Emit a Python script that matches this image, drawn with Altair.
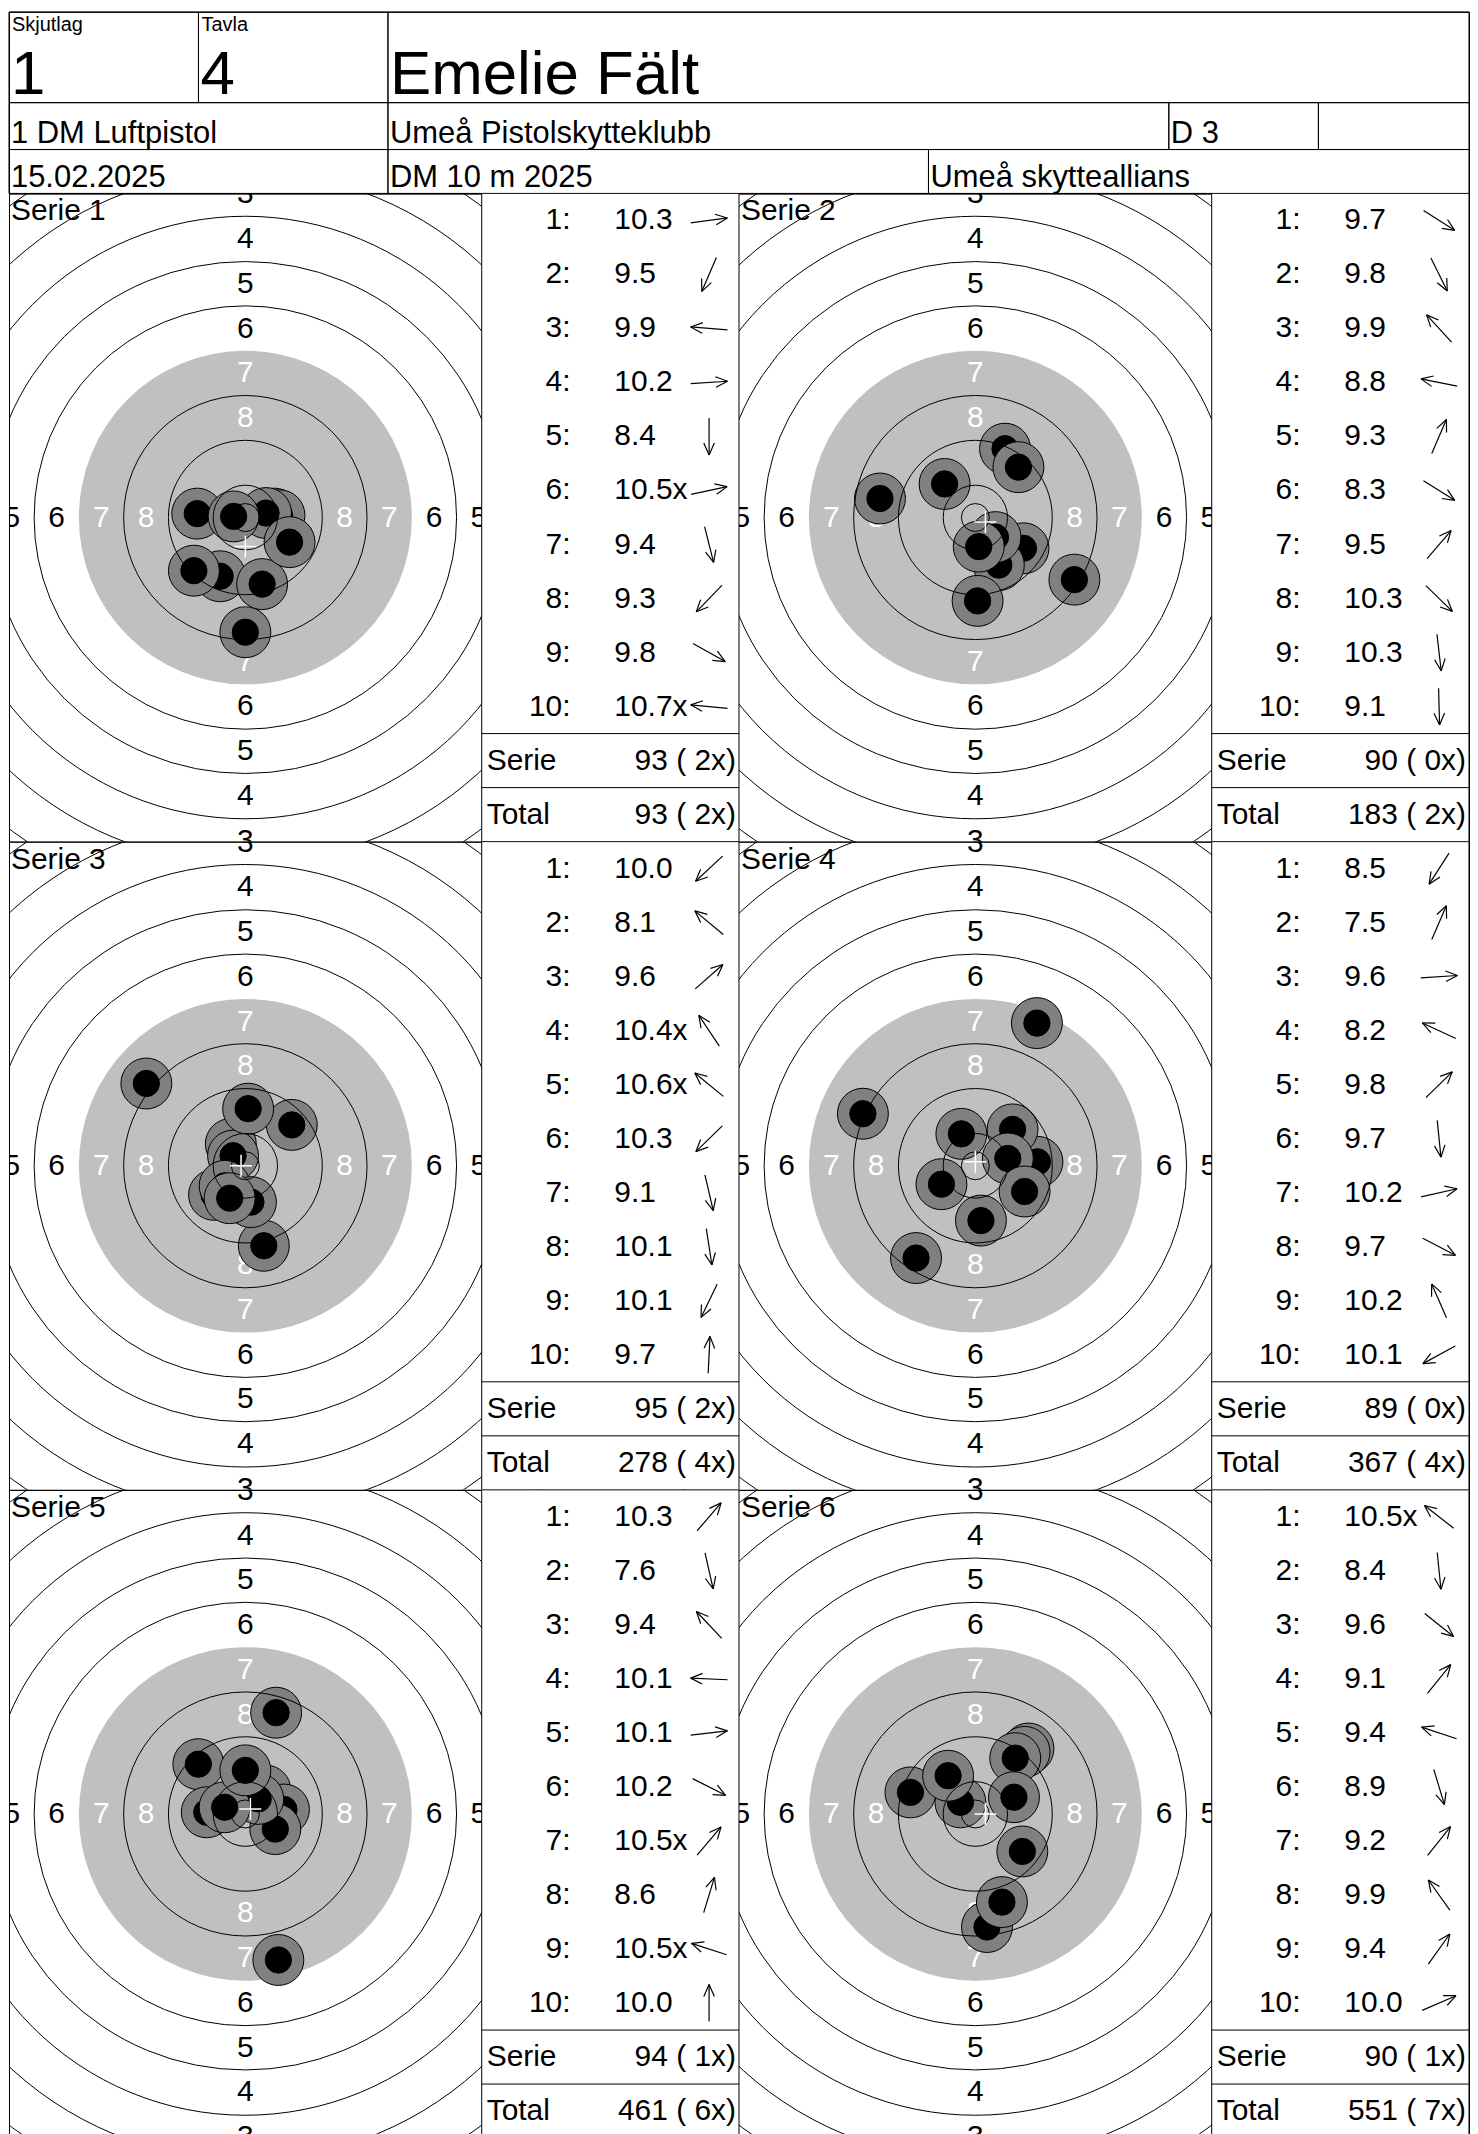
import altair as alt
import pandas as pd

FONT = "Liberation Sans"

# ---------------- header texts ----------------
SKJUTLAG_LABEL = "Skjutlag"
SKJUTLAG = "1"
TAVLA_LABEL = "Tavla"
TAVLA = "4"
NAME = "Emelie Fält"
CLASS_NAME = "1 DM Luftpistol"
CLUB = "Umeå Pistolskytteklubb"
DIVISION = "D 3"
DATE = "15.02.2025"
COMPETITION = "DM 10 m 2025"
ASSOCIATION = "Umeå skytteallians"

# ---------------- series data ----------------
SERIES_NAMES = ["Serie 1", "Serie 2", "Serie 3", "Serie 4", "Serie 5", "Serie 6"]

SCORES = [
    ["10.3", "9.5", "9.9", "10.2", "8.4", "10.5x", "9.4", "9.3", "9.8", "10.7x"],
    ["9.7", "9.8", "9.9", "8.8", "9.3", "8.3", "9.5", "10.3", "10.3", "9.1"],
    ["10.0", "8.1", "9.6", "10.4x", "10.6x", "10.3", "9.1", "10.1", "10.1", "9.7"],
    ["8.5", "7.5", "9.6", "8.2", "9.8", "9.7", "10.2", "9.7", "10.2", "10.1"],
    ["10.3", "7.6", "9.4", "10.1", "10.1", "10.2", "10.5x", "8.6", "10.5x", "10.0"],
    ["10.5x", "8.4", "9.6", "9.1", "9.4", "8.9", "9.2", "9.9", "9.4", "10.0"],
]

# shot positions on the target, mm from centre (x right, y up)
SHOT_X = [
    [5.2, -4.5, -8.6, 6.1, 0.0, 3.7, 3.0, -9.2, 7.9, -2.1],
    [8.6, 4.2, -5.5, -17.05, 5.3, 17.7, 7.7, 3.6, 0.6, 0.4],
    [-5.6, -17.7, 8.3, -2.6, -2.2, -3.7, 3.3, 1.0, -2.8, 0.5],
    [-10.6, 11.0, 11.1, -20.1, 6.65, 1.0, 5.8, 8.8, -2.5, -6.06],
    [3.6, 5.9, -8.4, -6.9, 6.9, 5.35, 2.3, 5.5, -3.7, 0.0],
    [-2.67, 2.08, 8.4, 9.5, -11.6, 4.75, 8.8, -4.87, 7.13, 6.9],
]
SHOT_Y = [
    [0.7, -10.5, 0.7, 0.4, -20.5, 0.8, -11.9, -9.5, -4.4, 0.2],
    [-5.5, -8.5, 6.0, 3.4, 12.3, -11.1, 9.0, -3.5, -5.2, -14.9],
    [-5.2, 14.7, 7.3, 3.9, 1.8, -3.6, -14.3, -6.5, -5.8, 10.2],
    [-16.5, 25.5, 0.7, 9.3, 6.5, -9.8, 1.3, -4.6, 5.7, -3.3],
    [4.2, -26.1, 8.9, 0.3, 0.8, -2.7, 2.7, 18.1, 1.2, 7.8],
    [2.08, -20.2, -6.7, 11.7, 3.86, -15.75, 11.1, 6.83, 9.98, 3.0],
]

# group centre marks (white cross), mm
CROSS_X = [0.0, 1.8, -0.77, 0.0, 0.9, 1.8]
CROSS_Y = [-5.2, -0.8, 0.0, 0.7, 0.9, 0.0]

SERIE_SUM = [93, 90, 95, 89, 94, 90]
SERIE_INNER = [2, 0, 2, 0, 1, 1]
TOTAL_SUM = [93, 183, 278, 367, 461, 551]
TOTAL_INNER = [2, 2, 4, 4, 6, 7]

# ---------------- target geometry (10 m air pistol, mm) ----------------
RING_OUTER = [77.75, 69.75, 61.75, 53.75, 45.75, 37.75, 29.75, 21.75, 13.75, 5.75]
RING_WIDTH = 8.0
INNER_TEN_R = 2.5
SHADED_FROM = 7
SHOT_OUTER_R = 4.55
SHOT_INNER_R = 2.35

# ---------------- layout / style ----------------
PX = 5.61                      # pixels per mm
TARGET_W, TARGET_H = 474, 650
LIST_W = 258
COL_W = TARGET_W + LIST_W
SHEET_W = 2 * COL_W
ROW_H = TARGET_H / 12
SHADE = "#c0c0c0"
SHOT_GRAY = "#808080"
LIST_FS = 30
LABEL_FS = 30
ARROW_X, ARROW_LEN, HEAD_LEN, HEAD_ANG = 228, 37, 13, 0.42

HEADER_HEIGHTS = [91, 47, 44]
HEADER_WIDTHS = [[190, 190, 1084], [380, 783, 150, 151], [380, 542, 542]]
BIG, SMALL, MID = 62, 20, 31
HEADER_CONTENT = [
    [[(SKJUTLAG_LABEL, SMALL, 3, 19), (SKJUTLAG, BIG, 2, 82)],
     [(TAVLA_LABEL, SMALL, 3, 19), (TAVLA, BIG, 2, 82)],
     [(NAME, BIG, 2, 82)]],
    [[(CLASS_NAME, MID, 2, 40)], [(CLUB, MID, 2, 40)], [(DIVISION, MID, 2, 40)], []],
    [[(DATE, MID, 2, 38)], [(COMPETITION, MID, 2, 38)], [(ASSOCIATION, MID, 2, 38)]],
]

SIZE_SCALE = alt.Scale(type="pow", exponent=2, domain=[0, 80],
                       range=[0, (2 * 80 * PX) ** 2], nice=False)


def header_chart():
    total_h = sum(HEADER_HEIGHTS)
    xs = alt.Scale(domain=[0, SHEET_W], nice=False, zero=False)
    ys = alt.Scale(domain=[0, total_h], reverse=True, nice=False, zero=False)
    cells, texts = [], []
    y0 = 0
    for h, widths, contents in zip(HEADER_HEIGHTS, HEADER_WIDTHS, HEADER_CONTENT):
        x0 = 0
        for w, items in zip(widths, contents):
            cells.append({"x0": x0, "x1": x0 + w, "y0": y0, "y1": y0 + h})
            for t, fs, dx, dy in items:
                texts.append({"t": t, "fs": fs, "tx": x0 + dx, "ty": y0 + dy})
            x0 += w
        y0 += h
    rects = alt.Chart(pd.DataFrame(cells)).mark_rect(
        filled=False, color="black", strokeWidth=1
    ).encode(x=alt.X("x0:Q", scale=xs, axis=None), x2="x1:Q",
             y=alt.Y("y0:Q", scale=ys, axis=None), y2="y1:Q")
    txt = alt.Chart(pd.DataFrame(texts)).mark_text(
        align="left", baseline="alphabetic", font=FONT, color="black"
    ).encode(x=alt.X("tx:Q", scale=xs, axis=None), y=alt.Y("ty:Q", scale=ys, axis=None),
             text="t:N", size=alt.Size("fs:Q", scale=None))
    return alt.layer(rects, txt).properties(width=SHEET_W, height=total_h)


def row_chart(r):
    series = [2 * r, 2 * r + 1]
    xs = alt.Scale(domain=[0, SHEET_W], nice=False, zero=False)
    ys = alt.Scale(domain=[0, TARGET_H], reverse=True, nice=False, zero=False)

    def XY(xf, yf):
        return dict(x=alt.X(f"{xf}:Q", scale=xs, axis=None),
                    y=alt.Y(f"{yf}:Q", scale=ys, axis=None))

    size = alt.Size("r:Q", scale=SIZE_SCALE, legend=None)
    mm_to_px = dict(px=f"datum.cx + datum.x * {PX}", py=f"datum.cy - datum.y * {PX}")

    discs, labs, shots, rings, crosses, titles = [], [], [], [], [], []
    lists, rows, sums, seps = [], [], [], []
    for c, i in enumerate(series):
        left = c * COL_W
        cx, cy = left + TARGET_W / 2, TARGET_H / 2
        discs.append({"cx": cx, "cy": cy, "x": 0.0, "y": 0.0, "r": RING_OUTER[SHADED_FROM - 1]})
        for n in range(1, 9):
            rr = RING_OUTER[n - 1] - RING_WIDTH / 2
            for dx, dy in [(0, 1), (0, -1), (-1, 0), (1, 0)]:
                labs.append({"cx": cx, "cy": cy, "n": n, "t": str(n), "x": dx * rr, "y": dy * rr})
        for k in range(10):
            for j, (part, rad) in enumerate((("outer", SHOT_OUTER_R), ("inner", SHOT_INNER_R))):
                shots.append({"cx": cx, "cy": cy, "z": c * 100 + 2 * k + j, "part": part,
                              "x": SHOT_X[i][k], "y": SHOT_Y[i][k], "r": rad})
        for idx, rad in enumerate(RING_OUTER + [INNER_TEN_R]):
            if idx + 1 != SHADED_FROM:
                rings.append({"cx": cx, "cy": cy, "x": 0.0, "y": 0.0, "r": rad})
        crosses.append({"cx": cx, "cy": cy, "x": CROSS_X[i], "y": CROSS_Y[i]})
        titles.append({"t": SERIES_NAMES[i], "tx": left + 2, "ty": 3})

        x0 = left + TARGET_W
        lists.append({"x0": x0, "x1": x0 + LIST_W, "y0": 0, "y1": TARGET_H})
        for b in (10, 11):
            seps.append({"x0": x0, "x1": x0 + LIST_W, "yb": b * ROW_H})
        for k in range(10):
            rows.append({"x0": x0, "k": k + 1, "s": SCORES[i][k],
                         "x": SHOT_X[i][k], "y": SHOT_Y[i][k]})
        sums.append({"x0": x0, "lab": "Serie", "row": 10.5,
                     "val": f"{SERIE_SUM[i]} ({SERIE_INNER[i]:2d}x)"})
        sums.append({"x0": x0, "lab": "Total", "row": 11.5,
                     "val": f"{TOTAL_SUM[i]} ({TOTAL_INNER[i]:2d}x)"})

    disc = alt.Chart(pd.DataFrame(discs)).transform_calculate(**mm_to_px).mark_point(
        filled=True, shape="circle", fill=SHADE, opacity=1, clip=True
    ).encode(**XY("px", "py"), size=size)

    labels = alt.Chart(pd.DataFrame(labs)).transform_calculate(**mm_to_px).mark_text(
        fontSize=LABEL_FS, font=FONT, align="center", baseline="middle", clip=True
    ).encode(
        **XY("px", "py"), text="t:N",
        color=alt.condition(f"datum.n >= {SHADED_FROM}", alt.value("white"), alt.value("black")),
    )

    shot_marks = alt.Chart(pd.DataFrame(shots)).transform_calculate(**mm_to_px).mark_point(
        filled=True, shape="circle", opacity=1, stroke="black", strokeWidth=1, clip=True
    ).encode(
        **XY("px", "py"), size=size,
        fill=alt.Fill("part:N", scale=alt.Scale(domain=["outer", "inner"],
                                                range=[SHOT_GRAY, "black"]), legend=None),
        order=alt.Order("z:Q"),
    )

    ring_marks = alt.Chart(pd.DataFrame(rings)).transform_calculate(**mm_to_px).mark_point(
        filled=False, shape="circle", color="black", strokeWidth=1, opacity=1, clip=True
    ).encode(**XY("px", "py"), size=size)

    cross_marks = alt.Chart(pd.DataFrame(crosses)).transform_calculate(**mm_to_px).mark_point(
        shape="M-1,0L1,0M0,-1L0,1", filled=False, color="white",
        strokeWidth=1.5, size=484, opacity=1, clip=True
    ).encode(**XY("px", "py"))

    list_bg = alt.Chart(pd.DataFrame(lists)).mark_rect(
        fill="white", stroke="black", strokeWidth=1, clip=True
    ).encode(**XY("x0", "y0"), x2="x1:Q", y2="y1:Q")

    sep_marks = alt.Chart(pd.DataFrame(seps)).mark_rule(color="black", strokeWidth=1).encode(
        **XY("x0", "yb"), x2="x1:Q")

    base = alt.Chart(pd.DataFrame(rows)).transform_calculate(
        ry=f"(datum.k - 0.5) * {ROW_H}",
        lx="datum.x0 + 89",
        vx="datum.x0 + 133",
        ax=f"datum.x0 + {ARROW_X}",
        lab="datum.k + ':'",
        vt="length(datum.s) < 4 ? '\u00a0' + datum.s : datum.s",
        th="atan2(datum.y, datum.x)",
    ).transform_calculate(
        sx=f"datum.ax - {ARROW_LEN / 2} * cos(datum.th)",
        sy=f"datum.ry + {ARROW_LEN / 2} * sin(datum.th)",
        tx=f"datum.ax + {ARROW_LEN / 2} * cos(datum.th)",
        ty=f"datum.ry - {ARROW_LEN / 2} * sin(datum.th)",
    ).transform_calculate(
        h1x=f"datum.tx - {HEAD_LEN} * cos(datum.th - {HEAD_ANG})",
        h1y=f"datum.ty + {HEAD_LEN} * sin(datum.th - {HEAD_ANG})",
        h2x=f"datum.tx - {HEAD_LEN} * cos(datum.th + {HEAD_ANG})",
        h2y=f"datum.ty + {HEAD_LEN} * sin(datum.th + {HEAD_ANG})",
    )
    idx_txt = base.mark_text(align="right", baseline="middle", fontSize=LIST_FS, font=FONT).encode(
        **XY("lx", "ry"), text="lab:N")
    val_txt = base.mark_text(align="left", baseline="middle", fontSize=LIST_FS, font=FONT).encode(
        **XY("vx", "ry"), text="vt:N")

    def seg(x1, y1, x2, y2):
        return base.mark_rule(color="black", strokeWidth=1.2).encode(
            **XY(x1, y1), x2=f"{x2}:Q", y2=f"{y2}:Q")

    shaft = seg("sx", "sy", "tx", "ty")
    head1 = seg("tx", "ty", "h1x", "h1y")
    head2 = seg("tx", "ty", "h2x", "h2y")

    sbase = alt.Chart(pd.DataFrame(sums)).transform_calculate(
        sy=f"datum.row * {ROW_H}", slx="datum.x0 + 5", svx=f"datum.x0 + {LIST_W - 3}")
    sum_lab = sbase.mark_text(align="left", baseline="middle", fontSize=LIST_FS, font=FONT).encode(
        **XY("slx", "sy"), text="lab:N")
    sum_val = sbase.mark_text(align="right", baseline="middle", fontSize=LIST_FS, font=FONT).encode(
        **XY("svx", "sy"), text="val:N")

    title_marks = alt.Chart(pd.DataFrame(titles)).mark_text(
        align="left", baseline="top", fontSize=30, font=FONT, color="black"
    ).encode(**XY("tx", "ty"), text="t:N")

    return alt.layer(
        disc, labels, shot_marks, ring_marks, cross_marks, list_bg, sep_marks,
        idx_txt, val_txt, shaft, head1, head2, sum_lab, sum_val, title_marks
    ).properties(width=SHEET_W, height=TARGET_H)


chart = alt.vconcat(header_chart(), row_chart(0), row_chart(1), row_chart(2),
                    spacing=0, bounds="flush").properties(
    padding=0, background="white"
).configure(font=FONT).configure_view(stroke="black", strokeWidth=1)

chart.save("out.html", embed_options={"renderer": "svg", "actions": False})
